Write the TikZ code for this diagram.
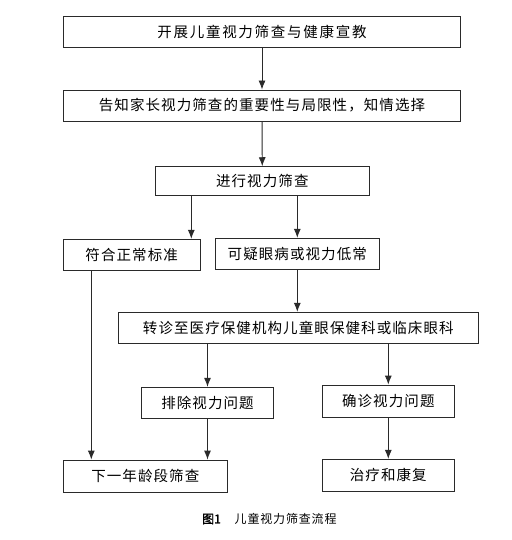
\documentclass[tikz,border=0pt]{standalone}
\usepackage{fontspec}
\usetikzlibrary{arrows.meta}
\newfontfamily\cjk{Noto Sans CJK SC}[LetterSpace=7.5]
\newfontfamily\cjkwide{Noto Sans CJK SC}[LetterSpace=12]
\newfontfamily\cjkcap{Noto Sans CJK SC}[LetterSpace=7]
\newfontfamily\cjkcapb{Noto Sans CJK SC}[FakeBold=1.5]
\definecolor{ln}{HTML}{2A2A2A}
\tikzset{
  box/.style={draw=ln, line width=0.9pt, inner sep=0pt, font=\cjk\fontsize{14.5}{16}\selectfont, text=black},
  arr/.style={draw=ln, line width=0.9pt, -{Latex[length=9pt,width=7pt]}},
  plain/.style={draw=ln, line width=0.9pt}
}
\begin{document}
\begin{tikzpicture}[x=1pt,y=-1pt]
\useasboundingbox (0,0) rectangle (511,540);
\fill[white] (0,0) rectangle (511,540);
\node[box, minimum width=397.4pt, minimum height=31.3pt, font=\cjkwide\fontsize{14.5}{16}\selectfont] (b1) at (262,31.65) {开展儿童视力筛查与健康宣教};
\node[box, minimum width=397.4pt, minimum height=31pt] (b2) at (262,105.5) {告知家长视力筛查的重要性与局限性，知情选择};
\node[box, minimum width=214pt, minimum height=29pt] (b3) at (262.3,181.2) {进行视力筛查};
\node[box, minimum width=136.7pt, minimum height=31pt] (b4) at (131.65,254.8) {符合正常标准};
\node[box, minimum width=164pt, minimum height=31pt] (b5) at (297.3,253.8) {可疑眼病或视力低常};
\node[box, minimum width=360pt, minimum height=31pt] (b6) at (298.3,327.8) {转诊至医疗保健机构儿童眼保健科或临床眼科};
\node[box, minimum width=131.6pt, minimum height=31pt] (b7) at (207.5,402.8) {排除视力问题};
\node[box, minimum width=132pt, minimum height=32.3pt] (b8) at (388.3,401.2) {确诊视力问题};
\node[box, minimum width=164pt, minimum height=32.3pt] (b9) at (145.3,476.2) {下一年龄段筛查};
\node[box, minimum width=132pt, minimum height=31.7pt] (b10) at (388.3,475.2) {治疗和康复};
\node[inner sep=0pt, anchor=east] (cap1) at (221,519) {\cjkcapb\fontsize{12}{14}\selectfont 图1};
\node[inner sep=0pt, anchor=west] (cap2) at (234.5,519) {\cjkcap\fontsize{12}{14}\selectfont 儿童视力筛查流程};
\coordinate (xa) at (191.3,0);
\coordinate (xb) at (297.3,0);
\coordinate (xc) at (91.3,0);
\coordinate (xd) at (207.5,0);
\coordinate (xe) at (388.3,0);
\draw[arr] (b1) -- (b2);
\draw[arr] (b2) -- (b3);
\draw[arr] (b3.south -| xa) -- (b4.north -| xa);
\draw[arr] (b3.south -| xb) -- (b5.north -| xb);
\draw[arr] (b5.south -| xb) -- (b6.north -| xb);
\draw[arr] (b4.south -| xc) -- (b9.north -| xc);
\draw[arr] (b6.south -| xd) -- (b7.north -| xd);
\draw[arr] (b6.south -| xe) -- (b8.north -| xe);
\draw[arr] (b7.south -| xd) -- (b9.north -| xd);
\draw[arr] (b8.south -| xe) -- (b10.north -| xe);
\end{tikzpicture}
\end{document}
